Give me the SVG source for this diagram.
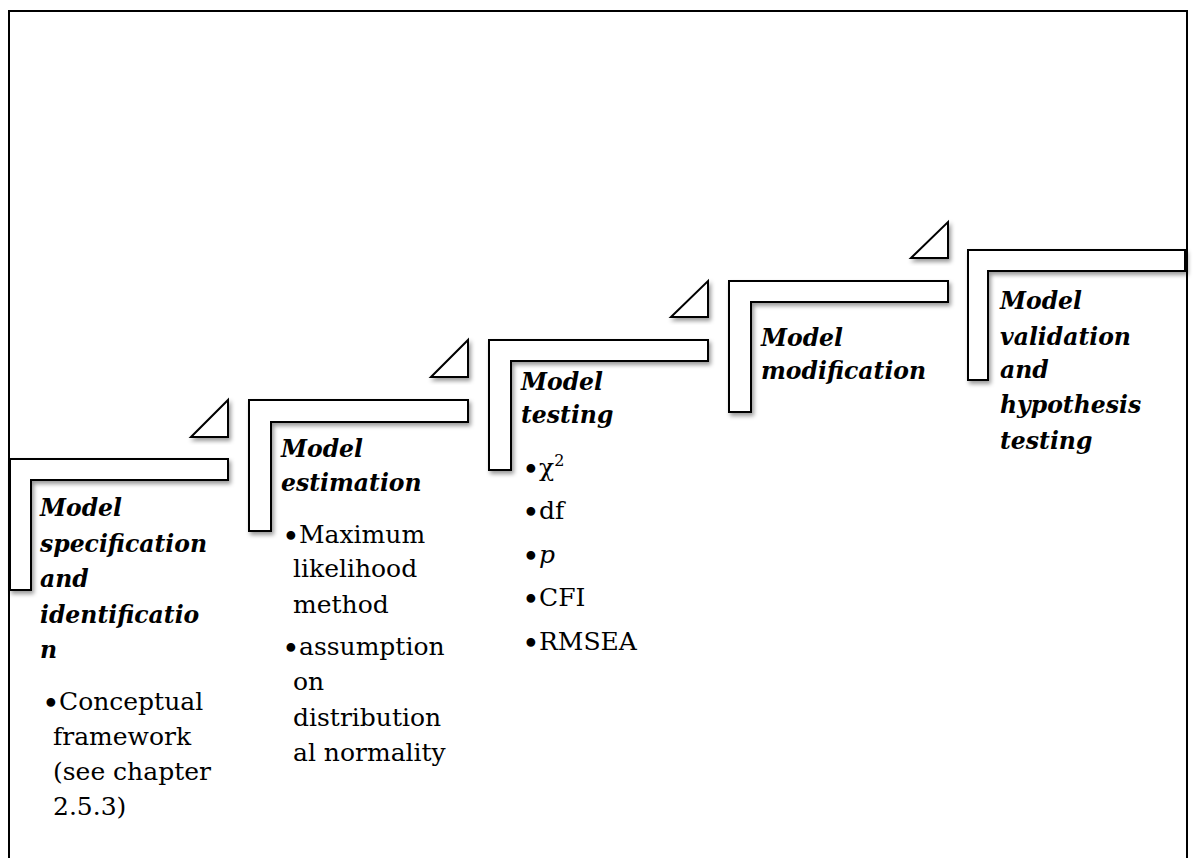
<svg xmlns="http://www.w3.org/2000/svg" width="1193" height="858" viewBox="0 0 1193 858">
  <style>
    .frame { fill: none; stroke: #000; stroke-width: 2; }
    .step { fill: #fff; stroke: #000; stroke-width: 2; stroke-linejoin: miter; filter: url(#shadow); }
    .title { font-family: "DejaVu Serif", "Liberation Serif", serif; font-weight: bold; font-style: italic; font-size: 23.5px; fill: #000; }
    .item { font-family: "DejaVu Serif", "Liberation Serif", serif; font-size: 25px; fill: #000; }
    .dot { font-size: 30px; }
  </style>
  <defs>
    <filter id="shadow" x="-10%" y="-10%" width="130%" height="130%">
      <feDropShadow dx="2" dy="3" stdDeviation="2" flood-color="#000" flood-opacity="0.4"/>
    </filter>
  </defs>

  <rect width="1193" height="858" fill="#fff"/>
  <!-- open frame: left, top and right edges -->
  <path class="frame" d="M9,858 V11 H1187 V858"/>

  <g id="connectors">
    <polygon class="step" points="191,437 228,400 228,437"/>
    <polygon class="step" points="431,377 468,340 468,377"/>
    <polygon class="step" points="671,317 708,281 708,317"/>
    <polygon class="step" points="911,258 948,222 948,258"/>
  </g>

  <g id="step1">
    <path class="step" d="M10,459 H228 V480 H31 V590 H10 Z"/>
    <text class="title" x="40" y="516">Model</text>
    <text class="title" x="40" y="552">specification</text>
    <text class="title" x="40" y="587">and</text>
    <text class="title" x="40" y="623">identificatio</text>
    <text class="title" x="40" y="658">n</text>
    <text class="item" y="710"><tspan class="dot" x="42" dy="4">•</tspan><tspan x="59" dy="-4">Conceptual</tspan></text>
    <text class="item" x="53" y="745">framework</text>
    <text class="item" x="53" y="780">(see chapter</text>
    <text class="item" x="53" y="815">2.5.3)</text>
  </g>

  <g id="step2">
    <path class="step" d="M249,400 H468 V422 H271 V531 H249 Z"/>
    <text class="title" x="281" y="457">Model</text>
    <text class="title" x="281" y="491">estimation</text>
    <text class="item" y="543"><tspan class="dot" x="282" dy="4">•</tspan><tspan x="299" dy="-4">Maximum</tspan></text>
    <text class="item" x="293" y="577">likelihood</text>
    <text class="item" x="293" y="613">method</text>
    <text class="item" y="655"><tspan class="dot" x="282" dy="4">•</tspan><tspan x="299" dy="-4">assumption</tspan></text>
    <text class="item" x="293" y="690">on</text>
    <text class="item" x="293" y="726">distribution</text>
    <text class="item" x="293" y="761">al normality</text>
  </g>

  <g id="step3">
    <path class="step" d="M489,340 H708 V361 H511 V470 H489 Z"/>
    <text class="title" x="521" y="390">Model</text>
    <text class="title" x="521" y="423">testing</text>
    <text class="item" y="476"><tspan class="dot" x="522" dy="4">•</tspan><tspan x="539" dy="-4">χ</tspan><tspan font-size="16" dy="-10">2</tspan></text>
    <text class="item" y="519"><tspan class="dot" x="522" dy="4">•</tspan><tspan x="539" dy="-4">df</tspan></text>
    <text class="item" y="563"><tspan class="dot" x="522" dy="4">•</tspan><tspan x="539" dy="-4" font-style="italic">p</tspan></text>
    <text class="item" y="606"><tspan class="dot" x="522" dy="4">•</tspan><tspan x="539" dy="-4">CFI</tspan></text>
    <text class="item" y="650"><tspan class="dot" x="522" dy="4">•</tspan><tspan x="539" dy="-4">RMSEA</tspan></text>
  </g>

  <g id="step4">
    <path class="step" d="M729,281 H948 V302 H751 V412 H729 Z"/>
    <text class="title" x="761" y="346">Model</text>
    <text class="title" x="761" y="379">modification</text>
  </g>

  <g id="step5">
    <path class="step" d="M968,250 H1185 V271 H988 V380 H968 Z"/>
    <text class="title" x="1000" y="309">Model</text>
    <text class="title" x="1000" y="345">validation</text>
    <text class="title" x="1000" y="378">and</text>
    <text class="title" x="1000" y="413">hypothesis</text>
    <text class="title" x="1000" y="449">testing</text>
  </g>
</svg>
